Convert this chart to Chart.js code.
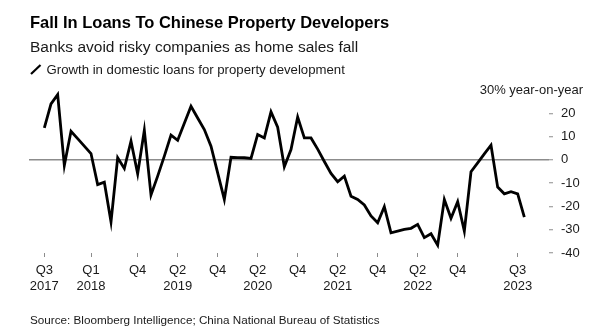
<!DOCTYPE html>
<html>
<head>
<meta charset="utf-8">
<script src="https://cdn.jsdelivr.net/npm/chart.js@4/dist/chart.umd.min.js"></script>
<style>
  body { margin: 0; background: #fff; }
  #wrap { position: relative; width: 599px; height: 333px; font-family: "Liberation Sans", Arial, sans-serif; color: #111; }
  #wrap canvas { position: absolute; left: 0; top: 0; }
  .txt { position: absolute; white-space: nowrap; line-height: 1; }
  #title { left: 30px; top: 14px; font-size: 16.5px; font-weight: bold; color: #000; }
  #subtitle { left: 30px; top: 38.5px; font-size: 15.5px; color: #1a1a1a; }
  #legend { left: 46.5px; top: 63px; font-size: 13.2px; color: #1a1a1a; }
  #legicon { position: absolute; left: 29px; top: 63px; }
  #source { left: 30px; top: 314px; font-size: 11.7px; color: #1a1a1a; }
</style>
</head>
<body>
<div id="wrap">
  <canvas id="line_chart" width="599" height="333"></canvas>
  <div class="txt" id="title">Fall In Loans To Chinese Property Developers</div>
  <div class="txt" id="subtitle">Banks avoid risky companies as home sales fall</div>
  <svg id="legicon" width="14" height="14"><line x1="2" y1="11" x2="11.5" y2="2" stroke="#000" stroke-width="2.2"/></svg>
  <div class="txt" id="legend">Growth in domestic loans for property development</div>
  <div class="txt" id="source">Source: Bloomberg Intelligence; China National Bureau of Statistics</div>
</div>
<script>
var line_chart = document.getElementById('line_chart');

// monthly growth, % year-on-year (one point per month from Q3 2017)
const values = [
  13.7, 24, 28, -2.4, 12.3, 9.1, 5.9, 2.7, -10.6, -9.6,
  -26.6, 0.9, -3.7, 8, -6, 12.7, -15.1, -7, 1.6, 10.6,
  8.4, 15.7, 23, 18, 13, 5.9, -5.6, -17, 1.1, 1,
  0.9, 0.6, 10.9, 9.4, 20.6, 14, -3, 4.4, 18.4, 9.4,
  9.4, 4.6, -0.7, -5.8, -9.4, -7, -15.6, -17, -19.4, -24.1,
  -27, -20.1, -31.3, -30.6, -29.9, -29.4, -27.7, -33.4, -31.7, -36.6,
  -17, -25.1, -18, -30.6, -5.1, -1.3, 2.6, 6.3, -11.7, -14.6,
  -13.7, -14.6, -24.6
];

// x axis ticks (point index) and their labels
const tickIdx = [0, 7, 14, 20, 26, 32, 38, 44, 50, 56, 62, 71];
const tickQ = ['Q3', 'Q1', 'Q4', 'Q2', 'Q4', 'Q2', 'Q4', 'Q2', 'Q4', 'Q2', 'Q4', 'Q3'];
const tickYr = ['2017', '2018', '', '2019', '', '2020', '', '2021', '', '2022', '', '2023'];

const yTicks = [-40, -30, -20, -10, 0, 10, 20, 30];
const topLabel = '30% year-on-year';

const font = { family: '"Liberation Sans", Arial, sans-serif', size: 13 };
const grey = '#8c8c8c';

// unit label drawn in place of the top tick
const topLabelPlugin = {
  id: 'topLabel',
  afterDraw(chart) {
    const ctx = chart.ctx;
    const y = chart.scales.y.getPixelForValue(30);
    ctx.save();
    ctx.font = '13px ' + font.family;
    ctx.fillStyle = '#1a1a1a';
    ctx.textAlign = 'right';
    ctx.textBaseline = 'middle';
    ctx.fillText(topLabel, 583, y);
    ctx.restore();
  }
};

var lineChart = new Chart(line_chart, {
  type: 'line',
  data: {
    datasets: [{
      label: 'Growth in domestic loans for property development',
      data: values.map((v, i) => ({ x: i, y: v })),
      borderColor: '#000',
      borderWidth: 2.8,
      pointRadius: 0,
      tension: 0,
      fill: false
    }]
  },
  options: {
    responsive: false,
    animation: false,
    layout: { padding: { left: 29, top: 90, right: 0, bottom: 0 } },
    plugins: { legend: { display: false }, tooltip: { enabled: false } },
    scales: {
      x: {
        type: 'linear',
        min: -2.3,
        max: 75.7,
        afterBuildTicks: s => { s.ticks = tickIdx.map(v => ({ value: v })); },
        afterFit: s => { s.height = 80; },
        border: { display: false },
        grid: { drawOnChartArea: false, drawTicks: true, tickLength: 4, color: grey, lineWidth: 1 },
        ticks: {
          autoSkip: false,
          maxRotation: 0,
          padding: 5,
          color: '#1a1a1a',
          font: Object.assign({ lineHeight: 1.25 }, font),
          callback: (v, i) => tickYr[i] ? [tickQ[i], tickYr[i]] : tickQ[i]
        }
      },
      y: {
        position: 'right',
        min: -40,
        max: 30,
        afterBuildTicks: s => { s.ticks = yTicks.map(v => ({ value: v })); },
        afterFit: s => { s.width = 50; },
        border: { display: false },
        grid: {
          color: c => (c.tick && c.tick.value === 0) ? grey : 'rgba(0,0,0,0)',
          lineWidth: 1.5,
          tickColor: c => (c.tick && c.tick.value === 30) ? 'rgba(0,0,0,0)' : grey,
          tickWidth: 1,
          tickLength: 4
        },
        ticks: {
          padding: 8,
          color: '#1a1a1a',
          font: font,
          callback: v => v === 30 ? '' : v
        }
      }
    }
  },
  plugins: [topLabelPlugin]
});
</script>
</body>
</html>
